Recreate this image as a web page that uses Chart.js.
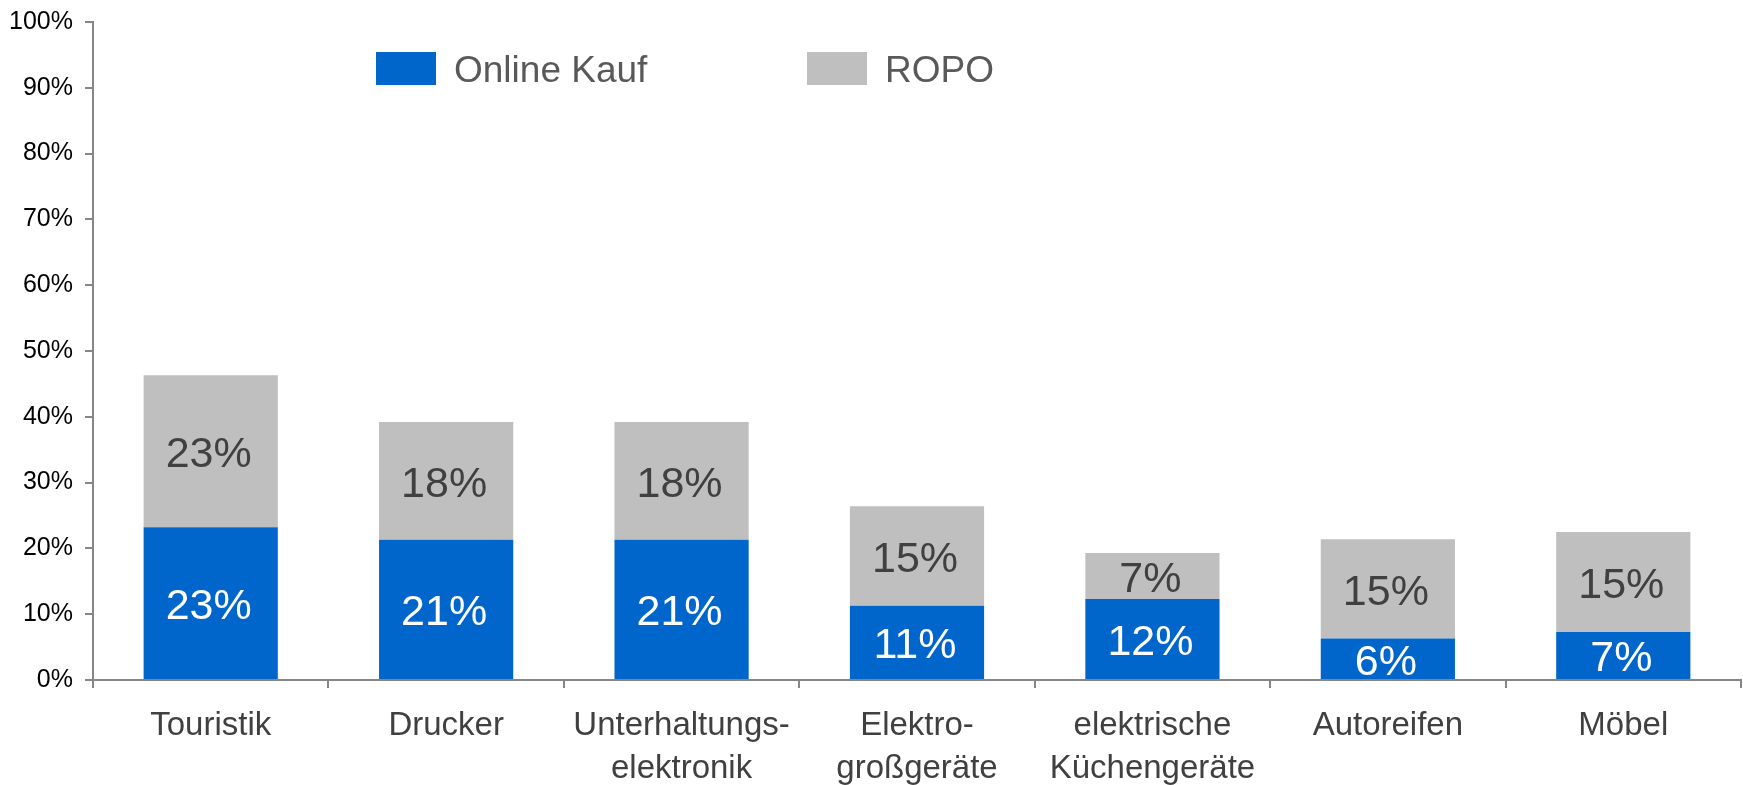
<!DOCTYPE html>
<html>
<head>
<meta charset="utf-8">
<script src="https://cdn.jsdelivr.net/npm/chart.js@4"></script>
<style>
  html, body { margin: 0; padding: 0; background: #fff; }
  canvas { display: block; }
</style>
</head>
<body>
<canvas id="ropoChart" width="1743" height="785"></canvas>
<script>
// Data
const categories = [
    'Touristik',
    'Drucker',
    ['Unterhaltungs-', 'elektronik'],
    ['Elektro-', 'großgeräte'],
    ['elektrische', 'Küchengeräte'],
    'Autoreifen',
    'Möbel'
];
const onlineKauf = [23.2, 21.3, 21.3, 11.3, 12.3, 6.3, 7.3];
const ropo = [23.1, 17.9, 17.9, 15.1, 7.0, 15.1, 15.2];
const yTicks = [0, 10, 20, 30, 40, 50, 60, 70, 80, 90, 100];

const FONT = '"Liberation Sans", Arial, sans-serif';
const AXIS_GRAY = '#868686';

// Value labels in the middle of each segment
const segmentLabels = {
    id: 'segmentLabels',
    afterDatasetsDraw(chart) {
        const ctx = chart.ctx;
        ctx.save();
        ctx.font = '43px ' + FONT;
        ctx.textAlign = 'center';
        ctx.textBaseline = 'middle';
        chart.data.datasets.forEach((ds, i) => {
            const meta = chart.getDatasetMeta(i);
            meta.data.forEach((bar, j) => {
                const p = bar.getProps(['x', 'y', 'base'], true);
                ctx.fillStyle = ds.labelColor;
                ctx.fillText(Math.round(ds.data[j]) + '%', p.x - 2, (p.y + p.base) / 2 + 4);
            });
        });
        ctx.restore();
    }
};

// Legend drawn inside the plot area, like the original
const innerLegend = {
    id: 'innerLegend',
    afterDraw(chart) {
        const ctx = chart.ctx;
        const items = [
            { x: 376, ds: chart.data.datasets[0] },
            { x: 807, ds: chart.data.datasets[1] }
        ];
        ctx.save();
        ctx.font = '37px ' + FONT;
        ctx.textBaseline = 'middle';
        ctx.textAlign = 'left';
        items.forEach(it => {
            ctx.fillStyle = it.ds.backgroundColor;
            ctx.fillRect(it.x, 52, 60, 33);
            ctx.fillStyle = '#595959';
            ctx.fillText(it.ds.label, it.x + 78, 72);
        });
        ctx.restore();
    }
};

new Chart(document.getElementById('ropoChart'), {
    type: 'bar',
    data: {
        labels: categories,
        datasets: [{
            label: 'Online Kauf',
            data: onlineKauf,
            backgroundColor: '#0066CC',
            labelColor: '#ffffff',
            barPercentage: 0.57,
            categoryPercentage: 1
        }, {
            label: 'ROPO',
            data: ropo,
            backgroundColor: '#BFBFBF',
            labelColor: '#404040',
            barPercentage: 0.57,
            categoryPercentage: 1
        }]
    },
    options: {
        responsive: false,
        animation: false,
        layout: { padding: { top: 22, right: 2, left: 0, bottom: 0 } },
        plugins: {
            legend: { display: false },
            tooltip: { enabled: false }
        },
        scales: {
            x: {
                stacked: true,
                border: { color: AXIS_GRAY, width: 2 },
                grid: {
                    drawOnChartArea: false,
                    drawTicks: true,
                    tickLength: 8,
                    color: AXIS_GRAY,
                    lineWidth: 2
                },
                ticks: {
                    color: '#404040',
                    font: { family: FONT, size: 33, lineHeight: 1.32 },
                    padding: 16,
                    maxRotation: 0,
                    autoSkip: false
                },
                afterFit(scale) { scale.height = 105; }
            },
            y: {
                stacked: true,
                min: 0,
                max: 100,
                border: { color: AXIS_GRAY, width: 2 },
                grid: {
                    drawOnChartArea: false,
                    drawTicks: true,
                    tickLength: 8,
                    color: AXIS_GRAY,
                    lineWidth: 2
                },
                afterBuildTicks(scale) {
                    scale.ticks = yTicks.map(v => ({ value: v }));
                },
                ticks: {
                    color: '#000000',
                    font: { family: FONT, size: 25 },
                    padding: 12,
                    callback: v => v + '%'
                },
                afterFit(scale) {
                    scale.width = 93;
                    scale.paddingTop = 0;
                    scale.paddingBottom = 0;
                }
            }
        }
    },
    plugins: [segmentLabels, innerLegend]
});
</script>
</body>
</html>
